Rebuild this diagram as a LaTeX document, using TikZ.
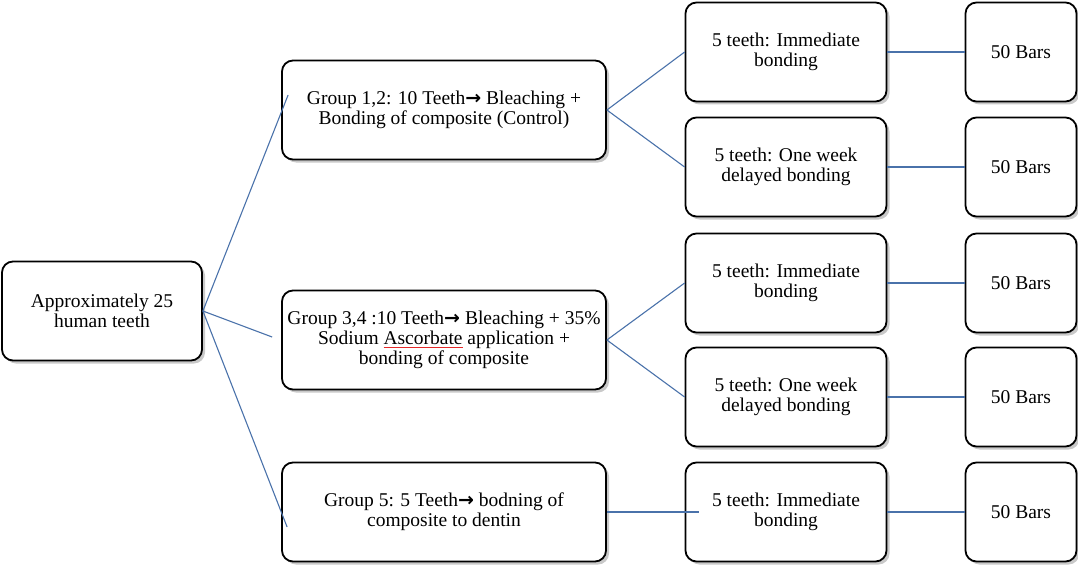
\documentclass[tikz,border=0pt]{standalone}
\usepackage{fontspec}
\setmainfont{Liberation Serif}
\newfontfamily\arrowfont{DejaVu Sans}
\usetikzlibrary{shadows}

\definecolor{linkblue}{RGB}{74,114,170}
\definecolor{spellred}{RGB}{230,40,40}
\newlength\ulwd
\newcommand\redul[1]{\settowidth\ulwd{#1}\rlap{\textcolor{spellred}{\rule[-0.3ex]{\ulwd}{0.5pt}}}#1}
\newcommand\toarr{{\arrowfont\bfseries\fontsize{19}{20}\selectfont →}}

\begin{document}
\begin{tikzpicture}[x=1pt,y=-1pt,
  box/.style={draw=black, line width=1.8pt, rounded corners=11pt, fill=white,
    align=center, inner sep=0pt, minimum height=99pt,
    font=\fontsize{19.5}{20}\selectfont,
    drop shadow={shadow xshift=3pt, shadow yshift=-3pt, opacity=0.3, fill=black!70}},
  link/.style={draw=linkblue, line width=1.1pt}]

\useasboundingbox (0,0) rectangle (1078,567);

% first column
\node[box, minimum width=200pt] (root) at (102,311) {Approximately 25\\human teeth};

% groups
\node[box, minimum width=324pt] (g12) at (444,110) {Group 1,2: 10 Teeth\toarr{} Bleaching +\\Bonding of composite (Control)};
\node[box, minimum width=324pt] (g34) at (444,340) {Group 3,4 :10 Teeth\toarr{} Bleaching + 35\%\\Sodium \redul{Ascorbate} application +\\bonding of composite};
\node[box, minimum width=324pt] (g5) at (444,512) {Group 5: 5 Teeth\toarr{} bodning of\\composite to dentin};

% bonding
\node[box, minimum width=201pt] (imm1) at (786,52) {5 teeth: Immediate\\bonding};
\node[box, minimum width=201pt] (del1) at (786,167) {5 teeth: One week\\delayed bonding};
\node[box, minimum width=201pt] (imm2) at (786,283) {5 teeth: Immediate\\bonding};
\node[box, minimum width=201pt] (del2) at (786,397) {5 teeth: One week\\delayed bonding};
\node[box, minimum width=201pt] (imm3) at (786,512) {5 teeth: Immediate\\bonding};

% bars
\node[box, minimum width=111pt] (bar1) at (1021,52) {50 Bars};
\node[box, minimum width=111pt] (bar2) at (1021,167) {50 Bars};
\node[box, minimum width=111pt] (bar3) at (1021,283) {50 Bars};
\node[box, minimum width=111pt] (bar4) at (1021,397) {50 Bars};
\node[box, minimum width=111pt] (bar5) at (1021,512) {50 Bars};

\draw[link] (root.east) -- ([shift={(7,-15)}]g12.west);
\draw[link] (root.east) -- ([shift={(-9,-3)}]g34.west);
\draw[link] (root.east) -- ([shift={(6,15)}]g5.west);

\draw[link] (g12.east) -- (imm1.west);
\draw[link] (g12.east) -- (del1.west);
\draw[link] (g34.east) -- (imm2.west);
\draw[link] (g34.east) -- (del2.west);
\draw[link] (g5.east) -- ([xshift=14]imm3.west);

\draw[link] (imm1.east) -- (bar1.west);
\draw[link] (del1.east) -- (bar2.west);
\draw[link] (imm2.east) -- (bar3.west);
\draw[link] (del2.east) -- (bar4.west);
\draw[link] (imm3.east) -- (bar5.west);

\end{tikzpicture}
\end{document}
